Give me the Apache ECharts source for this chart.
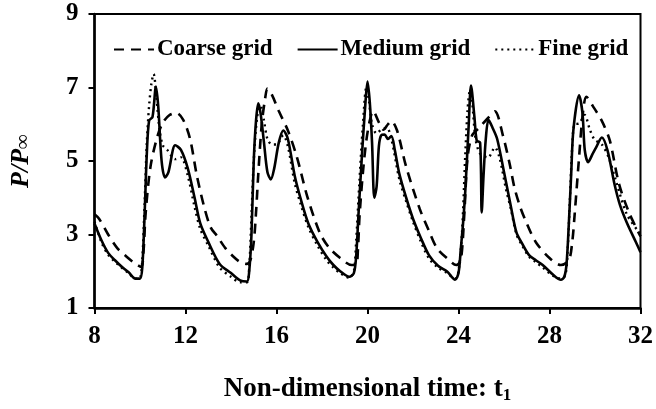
<!DOCTYPE html>
<html>
<head>
<meta charset="utf-8">
<script src="https://cdn.jsdelivr.net/npm/echarts@6/dist/echarts.min.js"></script>
<style>html,body{margin:0;padding:0;background:#fff;}#c{width:656px;height:409px;}</style>
</head>
<body>
<div id="c"></div>
<script>
const seriesNames = ['Coarse grid', 'Medium grid', 'Fine grid'];
const xTicks = [8, 12, 16, 20, 24, 28, 32];
const yTicks = [1, 3, 5, 7, 9];

const coarse = [[8.0,3.55],[8.2,3.43],[8.6,3.0],[9.0,2.63],[9.4,2.4],[9.7,2.25],[10.05,2.12],[10.15,2.5],[10.25,3.59],[10.46,4.84],[10.75,5.64],[11.0,6.04],[11.3,6.25],[11.6,6.31],[11.9,6.12],[12.2,5.6],[12.5,4.6],[12.8,3.8],[13.1,3.2],[13.4,2.95],[13.75,2.63],[14.1,2.4],[14.4,2.25],[14.7,2.2],[14.85,2.3],[15.0,2.79],[15.1,3.6],[15.2,4.65],[15.35,5.99],[15.5,6.7],[15.6,6.97],[15.8,6.8],[16.1,6.36],[16.5,5.83],[16.9,5.1],[17.35,4.04],[17.9,3.05],[18.3,2.65],[18.8,2.36],[19.3,2.17],[19.5,2.17],[19.58,2.6],[19.65,3.5],[19.8,4.7],[19.95,5.56],[20.1,6.1],[20.25,6.36],[20.5,6.05],[20.7,5.85],[20.9,6.0],[21.05,6.09],[21.3,5.83],[21.7,4.84],[22.3,3.69],[22.7,3.1],[23.05,2.63],[23.5,2.35],[23.9,2.17],[24.1,2.3],[24.25,3.5],[24.4,5.1],[24.6,5.7],[24.9,5.9],[25.3,6.17],[25.6,6.35],[25.95,5.7],[26.25,4.92],[26.45,4.3],[26.7,3.77],[27.0,3.3],[27.4,2.79],[28.0,2.36],[28.5,2.17],[28.85,2.3],[29.0,2.8],[29.1,3.5],[29.3,5.1],[29.45,6.2],[29.62,6.75],[29.9,6.5],[30.3,6.09],[30.65,5.56],[31.05,4.39],[31.5,3.59],[32.0,2.95]];

const medium = [[8.0,3.3],[8.3,2.85],[8.6,2.5],[8.9,2.3],[9.2,2.12],[9.5,1.97],[9.8,1.8],[10.0,1.8],[10.1,2.1],[10.2,3.5],[10.3,5.2],[10.4,6.1],[10.55,6.2],[10.7,7.02],[10.8,6.5],[10.95,5.0],[11.1,4.55],[11.25,4.7],[11.55,5.43],[11.8,5.3],[12.1,4.8],[12.4,4.0],[12.65,3.3],[13.0,2.8],[13.5,2.2],[14.0,1.95],[14.4,1.75],[14.7,1.72],[14.8,2.0],[14.9,3.0],[15.0,5.0],[15.1,6.1],[15.2,6.57],[15.3,6.3],[15.45,5.5],[15.6,4.7],[15.75,4.5],[15.9,4.8],[16.1,5.5],[16.3,5.83],[16.5,5.6],[16.8,4.6],[17.05,4.0],[17.4,3.3],[17.8,2.8],[18.2,2.4],[18.5,2.17],[18.8,2.0],[19.2,1.85],[19.4,1.95],[19.5,2.4],[19.6,3.5],[19.75,5.1],[19.9,6.5],[20.0,7.16],[20.1,6.6],[20.2,5.5],[20.3,4.0],[20.4,4.3],[20.5,5.4],[20.6,5.7],[20.75,5.72],[20.9,5.6],[21.05,5.68],[21.2,5.3],[21.4,4.65],[21.7,4.0],[22.0,3.43],[22.35,2.9],[22.7,2.44],[23.1,2.15],[23.5,1.99],[23.85,1.77],[24.0,1.95],[24.1,2.6],[24.2,3.3],[24.3,4.2],[24.45,6.0],[24.55,7.05],[24.7,6.2],[24.8,5.56],[24.95,5.5],[25.02,3.6],[25.1,4.6],[25.2,5.6],[25.32,6.12],[25.5,5.9],[25.7,5.6],[26.0,4.7],[26.3,3.77],[26.55,3.05],[26.8,2.75],[27.1,2.44],[27.4,2.3],[27.7,2.17],[28.15,1.91],[28.5,1.77],[28.65,1.85],[28.75,2.2],[28.85,3.3],[28.95,4.6],[29.05,5.85],[29.3,6.79],[29.45,6.3],[29.55,5.3],[29.7,4.97],[29.9,5.2],[30.05,5.37],[30.3,5.64],[30.55,5.29],[30.85,4.39],[31.1,3.8],[31.4,3.32],[31.8,2.79],[32.0,2.52]];

const fine = [[8.0,3.35],[8.3,2.8],[8.6,2.45],[9.0,2.2],[9.5,1.95],[9.8,1.8],[10.0,1.82],[10.1,2.3],[10.2,3.8],[10.3,5.5],[10.4,6.5],[10.5,7.1],[10.6,7.37],[10.7,6.9],[10.85,5.9],[11.0,5.43],[11.2,5.3],[11.55,5.05],[11.8,5.1],[12.1,4.6],[12.4,3.75],[12.65,3.15],[13.0,2.7],[13.5,2.1],[14.0,1.85],[14.4,1.7],[14.7,1.7],[14.8,2.1],[14.9,3.5],[15.0,5.0],[15.15,6.2],[15.3,6.5],[15.45,6.1],[15.6,5.6],[15.8,5.45],[16.0,5.45],[16.3,5.7],[16.5,5.4],[16.8,4.4],[17.05,3.85],[17.4,3.2],[17.8,2.7],[18.2,2.3],[18.5,2.1],[18.8,1.95],[19.2,1.82],[19.4,2.0],[19.5,2.8],[19.65,4.5],[19.8,6.0],[19.95,7.0],[20.05,6.7],[20.2,6.0],[20.4,5.75],[20.6,5.85],[20.85,5.9],[21.05,5.6],[21.4,4.5],[21.7,3.9],[22.0,3.35],[22.35,2.8],[22.7,2.35],[23.1,2.1],[23.5,1.95],[23.85,1.8],[24.0,2.0],[24.15,3.0],[24.3,5.2],[24.4,6.4],[24.5,6.9],[24.6,6.6],[24.75,5.6],[24.95,5.2],[25.3,5.1],[25.6,5.37],[25.8,5.1],[26.1,4.2],[26.3,3.7],[26.55,3.0],[26.8,2.7],[27.1,2.4],[27.4,2.25],[27.7,2.1],[28.15,1.88],[28.5,1.8],[28.7,1.9],[28.8,2.6],[28.9,4.0],[29.0,5.4],[29.1,6.0],[29.3,6.02],[29.55,6.25],[29.75,5.9],[29.97,5.59],[30.3,5.45],[30.6,5.1],[30.9,4.5],[31.4,3.55],[31.95,3.05]];

const FONT = '"Liberation Serif", "Times New Roman", serif';
const chart = echarts.init(document.getElementById('c'), null, {renderer: 'canvas'});
const base = {type: 'line', showSymbol: false, symbol: 'none', smooth: 0.3, animation: false};
chart.setOption({
  animation: false,
  backgroundColor: '#fff',
  grid: {left: 94, right: 15, top: 14, bottom: 95, show: true, borderColor: '#000', borderWidth: 2, backgroundColor: 'transparent'},
  legend: {
    top: 33, left: 108, itemWidth: 40, itemHeight: 12, itemGap: 24,
    itemStyle: {opacity: 0},
    textStyle: {fontFamily: FONT, fontWeight: 'bold', fontSize: 23, color: '#000', padding: [0, 0, 0, -2]},
    data: seriesNames
  },
  xAxis: {
    type: 'value', min: xTicks[0], max: xTicks[xTicks.length - 1], interval: 4,
    axisLine: {lineStyle: {color: '#000', width: 2.5}},
    axisTick: {show: true, inside: false, length: 6, lineStyle: {color: '#000', width: 2}},
    splitLine: {show: false},
    axisLabel: {fontFamily: FONT, fontWeight: 'bold', fontSize: 25, color: '#000', margin: 16},
    name: 'Non-dimensional time: t{s|1}', nameLocation: 'middle', nameGap: 66,
    nameTextStyle: {fontFamily: FONT, fontWeight: 'bold', fontSize: 27, color: '#000',
      rich: {s: {fontFamily: FONT, fontWeight: 'bold', fontSize: 17, color: '#000', verticalAlign: 'bottom', padding: [13, 0, 0, 0]}}}
  },
  yAxis: {
    type: 'value', min: yTicks[0], max: yTicks[yTicks.length - 1], interval: 2,
    axisLine: {show: true, lineStyle: {color: '#000', width: 2.5}},
    axisTick: {show: true, inside: false, length: 6, lineStyle: {color: '#000', width: 2}},
    splitLine: {show: false},
    axisLabel: {fontFamily: FONT, fontWeight: 'bold', fontSize: 25, color: '#000', margin: 16},
    name: '{p|P/P}{i|∞}', nameLocation: 'middle', nameGap: 60, nameRotate: 90,
    nameTextStyle: {rich: {
      p: {fontFamily: FONT, fontWeight: 'bold', fontStyle: 'italic', fontSize: 26, color: '#000'},
      i: {fontFamily: FONT, fontWeight: 'bold', fontSize: 21, color: '#000', padding: [6, 0, 0, 0]}
    }}
  },
  series: [
    Object.assign({}, base, {name: seriesNames[0], data: coarse, lineStyle: {color: '#000', width: 2.6, type: [10, 7]}, itemStyle: {color: '#000'}}),
    Object.assign({}, base, {name: seriesNames[1], data: medium, lineStyle: {color: '#000', width: 2.6, type: 'solid'}, itemStyle: {color: '#000'}}),
    Object.assign({}, base, {name: seriesNames[2], data: fine, lineStyle: {color: '#000', width: 2.4, type: [2, 4]}, itemStyle: {color: '#000'}})
  ]
});
</script>
</body>
</html>
